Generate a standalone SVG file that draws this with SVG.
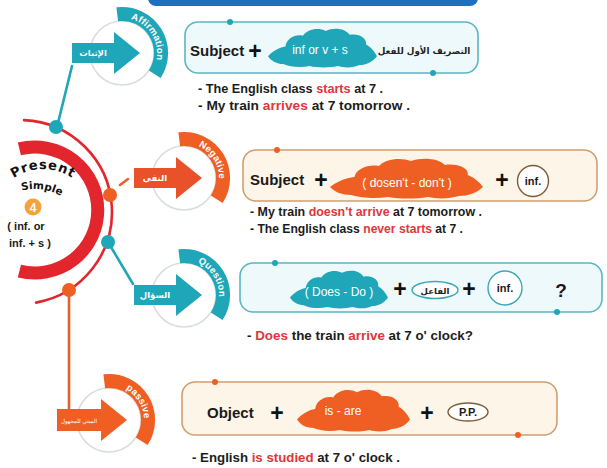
<svg xmlns="http://www.w3.org/2000/svg" width="607" height="468" viewBox="0 0 607 468">
<defs>
<style>
.lbl{font-family:"Liberation Sans",Arial,sans-serif;font-weight:bold;font-size:15px;fill:#1a1a1a}
.plus{font-family:"Liberation Sans",Arial,sans-serif;font-weight:bold;font-size:23px;fill:#111}
.sent{font-family:"Liberation Sans",Arial,sans-serif;font-weight:bold;font-size:12.5px;fill:#1c1c1c}
.hl{fill:#e0363c}
.teal{fill:#1fa6b8}
.orng{fill:#ef5f24}
.ring{fill:none;stroke:#d9dddd;stroke-width:1.5}
.band-t{font-family:"Liberation Sans",Arial,sans-serif;font-weight:bold;font-size:9.5px;fill:#fff;letter-spacing:0.2px}
.arrow-t{font-family:"DejaVu Sans",sans-serif;font-weight:bold;font-size:8.5px;fill:#fff}
.cloud-t{font-family:"Liberation Sans",Arial,sans-serif;font-size:12px;fill:#fff}
.ar{font-family:"DejaVu Sans","Noto Sans",sans-serif;font-weight:bold}
.tbox{fill:#eef9fb;stroke:#5bb6c2;stroke-width:1.6}
.obox{fill:#fdf5e8;stroke:#cf9f72;stroke-width:1.6}
.pill-t{fill:#fff;stroke:#3aa9b7;stroke-width:1.4}
.pill-o{fill:#fff;stroke:#7d5a3a;stroke-width:1.4}
.small{font-family:"Liberation Sans",Arial,sans-serif;font-weight:bold;font-size:11px;fill:#1a1a1a}
.wire{fill:none;stroke-width:2.6;stroke-linecap:round}
</style>
<!-- puffy cloud in a 100 x 40 box -->
<path id="cloud" d="M0,29 C4,24 10,20 16,19 C17,11 25,6 32,8 C36,1 46,-1 53,3 C60,-1 71,0 75,7 C83,5 91,10 90,17 C95,20 98,25 100,29 C96,35 90,38 84,38 C78,41 70,41 64,39 C56,41 46,41 38,39 C30,41 20,40 14,37 C8,37 3,34 0,29 Z"/>
<!-- curved band of a badge, centred on the ring -->
<path id="bandShape" d="M-5.6,-45.7 A46,46 0 0 1 38.6,25.1 L26.8,17.4 A32,32 0 0 0 -3.9,-31.8 Z"/>
<path id="bandArc" d="M-4.3,-34.7 A35,35 0 0 1 29.4,19.1"/>
<polygon id="arrowShape" points="-50,-10 -8,-10 -8,-21 18,0 -8,21 -8,10 -50,10"/>
<path id="presentArc" d="M-2,195 A52,52 0 0 1 88,195"/>
<path id="simpleArc" d="M9,196 A52,52 0 0 1 74.8,207.6"/>
</defs>

<rect width="607" height="468" fill="#fff"/>

<!-- title bar edge -->
<rect x="148" y="-12" width="330" height="18" rx="8" fill="#1d6fc0"/>

<!-- connectors -->
<g id="connectors">
  <path class="wire" d="M24.1,120.1 A92,92 0 0 1 36,302.6" stroke="#e3262d" stroke-width="2.4"/>
  <line class="wire" x1="57" y1="127" x2="72" y2="66" stroke="#1fa6b8"/>
  <line class="wire" x1="120" y1="185" x2="128" y2="179" stroke="#ef5f24"/>
  <line class="wire" x1="108" y1="242" x2="133" y2="284" stroke="#1fa6b8"/>
  <line class="wire" x1="69" y1="290" x2="69" y2="410" stroke="#ef5f24"/>
  <circle cx="56" cy="127" r="7" fill="#1fa6b8"/>
  <circle cx="110" cy="195" r="7" fill="#ef5f24"/>
  <circle cx="108" cy="242" r="7" fill="#1fa6b8"/>
  <circle cx="69" cy="290" r="7" fill="#ef5f24"/>
</g>

<!-- central hub -->
<g id="present-simple">
  <path d="M19.4,148.9 A63,63 0 1 1 19.4,271.1" fill="none" stroke="#e3262d" stroke-width="13"/>
  <text font-family="'DejaVu Sans',sans-serif" font-weight="bold" font-size="13" fill="#111" letter-spacing="0.8"><textPath href="#presentArc" startOffset="50%" text-anchor="middle">Present</textPath></text>
  <text font-family="'DejaVu Sans',sans-serif" font-weight="bold" font-size="10.5" fill="#111"><textPath href="#simpleArc" startOffset="47%" text-anchor="middle">Simple</textPath></text>
  <circle cx="33" cy="207" r="8.5" fill="#f3a33a"/>
  <text x="33" y="211.5" text-anchor="middle" font-family="'Liberation Sans',sans-serif" font-weight="bold" font-size="12" fill="#fff">4</text>
  <text class="small" x="26" y="230" text-anchor="middle" font-size="12">( inf. or</text>
  <text class="small" x="30" y="247" text-anchor="middle" font-size="12">inf. + s )</text>
</g>

<!-- badges -->
<g id="badge-affirmation" transform="translate(122,53)">
  <circle class="ring" r="32"/>
  <use href="#bandShape" class="teal"/>
  <text class="band-t"><textPath href="#bandArc" startOffset="50%" text-anchor="middle">Affirmation</textPath></text>
  <use href="#arrowShape" class="teal"/>
  <text class="arrow-t" x="-29" y="3" text-anchor="middle">الإثبات</text>
</g>
<g id="badge-negative" transform="translate(184,178)">
  <circle class="ring" r="32"/>
  <use href="#bandShape" class="orng"/>
  <text class="band-t"><textPath href="#bandArc" startOffset="50%" text-anchor="middle">Negative</textPath></text>
  <use href="#arrowShape" fill="#e8512a"/>
  <text class="arrow-t" x="-29" y="3" text-anchor="middle">النفي</text>
</g>
<g id="badge-question" transform="translate(184,295)">
  <circle class="ring" r="32"/>
  <use href="#bandShape" class="teal"/>
  <text class="band-t"><textPath href="#bandArc" startOffset="50%" text-anchor="middle">Question</textPath></text>
  <use href="#arrowShape" class="teal"/>
  <text class="arrow-t" x="-29" y="3" text-anchor="middle">السؤال</text>
</g>
<g id="badge-passive" transform="translate(109,420)">
  <circle class="ring" r="32"/>
  <use href="#bandShape" class="orng"/>
  <text class="band-t"><textPath href="#bandArc" startOffset="50%" text-anchor="middle">passive</textPath></text>
  <polygon points="-52,-11 -8,-11 -8,-21 18,0 -8,21 -8,11 -52,11" class="orng"/>
  <text x="-30" y="2.5" text-anchor="middle" font-family="'DejaVu Sans',sans-serif" font-size="5.6" fill="#fff">المبني للمجهول</text>
</g>

<!-- affirmation rule -->
<g id="box-affirmation">
  <rect class="tbox" x="185" y="22" width="293" height="51" rx="13"/>
  <circle cx="230" cy="22" r="3" fill="#1fa6b8"/>
  <circle cx="433" cy="73" r="3" fill="#1fa6b8"/>
  <text class="lbl" x="190" y="56">Subject</text>
  <text class="plus" x="255" y="59" text-anchor="middle">+</text>
  <use href="#cloud" class="teal" transform="translate(268,28) scale(1.09,0.975)"/>
  <text class="cloud-t" x="320" y="54" text-anchor="middle">inf or v + s</text>
  <text class="ar" x="424" y="54" text-anchor="middle" font-size="8.8" fill="#222">التصريف الأول للفعل</text>
  <text class="sent" x="198" y="93" textLength="185" lengthAdjust="spacingAndGlyphs">- The English class <tspan class="hl">starts</tspan> at 7 .</text>
  <text class="sent" x="198" y="110" textLength="212" lengthAdjust="spacingAndGlyphs">- My train <tspan class="hl">arrives</tspan> at 7 tomorrow .</text>
</g>

<!-- negative rule -->
<g id="box-negative">
  <rect class="obox" x="243" y="150" width="354" height="51" rx="13"/>
  <circle cx="277" cy="150" r="3" fill="#ef5f24"/>
  <text class="lbl" x="250" y="185">Subject</text>
  <text class="plus" x="321" y="188" text-anchor="middle">+</text>
  <use href="#cloud" class="orng" transform="translate(330,158) scale(1.53,1.0)"/>
  <text class="cloud-t" x="407" y="187" text-anchor="middle" font-size="11.5">( dosen't - don't )</text>
  <text class="plus" x="502" y="188" text-anchor="middle">+</text>
  <circle class="pill-o" cx="533" cy="181" r="15.5"/>
  <text class="small" x="533" y="185" text-anchor="middle">inf.</text>
  <text class="sent" x="250" y="216" textLength="232" lengthAdjust="spacingAndGlyphs">- My train <tspan class="hl">doesn't arrive</tspan> at 7 tomorrow .</text>
  <text class="sent" x="250" y="233" textLength="213" lengthAdjust="spacingAndGlyphs">- The English class <tspan class="hl">never starts</tspan> at 7 .</text>
</g>

<!-- question rule -->
<g id="box-question">
  <rect class="tbox" x="240" y="263" width="362" height="49" rx="13"/>
  <circle cx="275" cy="263" r="3" fill="#1fa6b8"/>
  <circle cx="557" cy="312" r="3" fill="#1fa6b8"/>
  <use href="#cloud" class="teal" transform="translate(290,270) scale(0.98,0.95)"/>
  <text class="cloud-t" x="339" y="296" text-anchor="middle" font-size="11.5">( Does - Do )</text>
  <text class="plus" x="400" y="297" text-anchor="middle">+</text>
  <ellipse class="pill-t" cx="435" cy="290" rx="23" ry="8.5"/>
  <text class="ar" x="435" y="293.5" text-anchor="middle" font-size="8.5" fill="#222">الفاعل</text>
  <text class="plus" x="469" y="297" text-anchor="middle">+</text>
  <circle class="pill-t" cx="505" cy="288" r="17"/>
  <text class="small" x="505" y="292" text-anchor="middle">inf.</text>
  <text x="561" y="297" text-anchor="middle" font-family="'Liberation Sans',sans-serif" font-weight="bold" font-size="19" fill="#1a1a1a">?</text>
  <text class="sent" x="247" y="340" textLength="226" lengthAdjust="spacingAndGlyphs">- <tspan class="hl">Does</tspan> the train <tspan class="hl">arrive</tspan> at 7 o' clock?</text>
</g>

<!-- passive rule -->
<g id="box-passive">
  <rect class="obox" x="182" y="382" width="375" height="53" rx="13"/>
  <circle cx="215" cy="382" r="3" fill="#ef5f24"/>
  <circle cx="518" cy="435" r="3" fill="#ef5f24"/>
  <text class="lbl" x="207" y="418">Object</text>
  <text class="plus" x="277" y="421" text-anchor="middle">+</text>
  <use href="#cloud" class="orng" transform="translate(297,389) scale(1.13,1.05)"/>
  <text class="cloud-t" x="343" y="415" text-anchor="middle">is - are</text>
  <text class="plus" x="427" y="421" text-anchor="middle">+</text>
  <ellipse class="pill-o" cx="468" cy="412" rx="20" ry="9"/>
  <text class="small" x="468" y="416" text-anchor="middle" font-size="10">P.P.</text>
  <text class="sent" x="192" y="462" textLength="208" lengthAdjust="spacingAndGlyphs">- English <tspan class="hl">is studied</tspan> at 7 o' clock .</text>
</g>
</svg>
